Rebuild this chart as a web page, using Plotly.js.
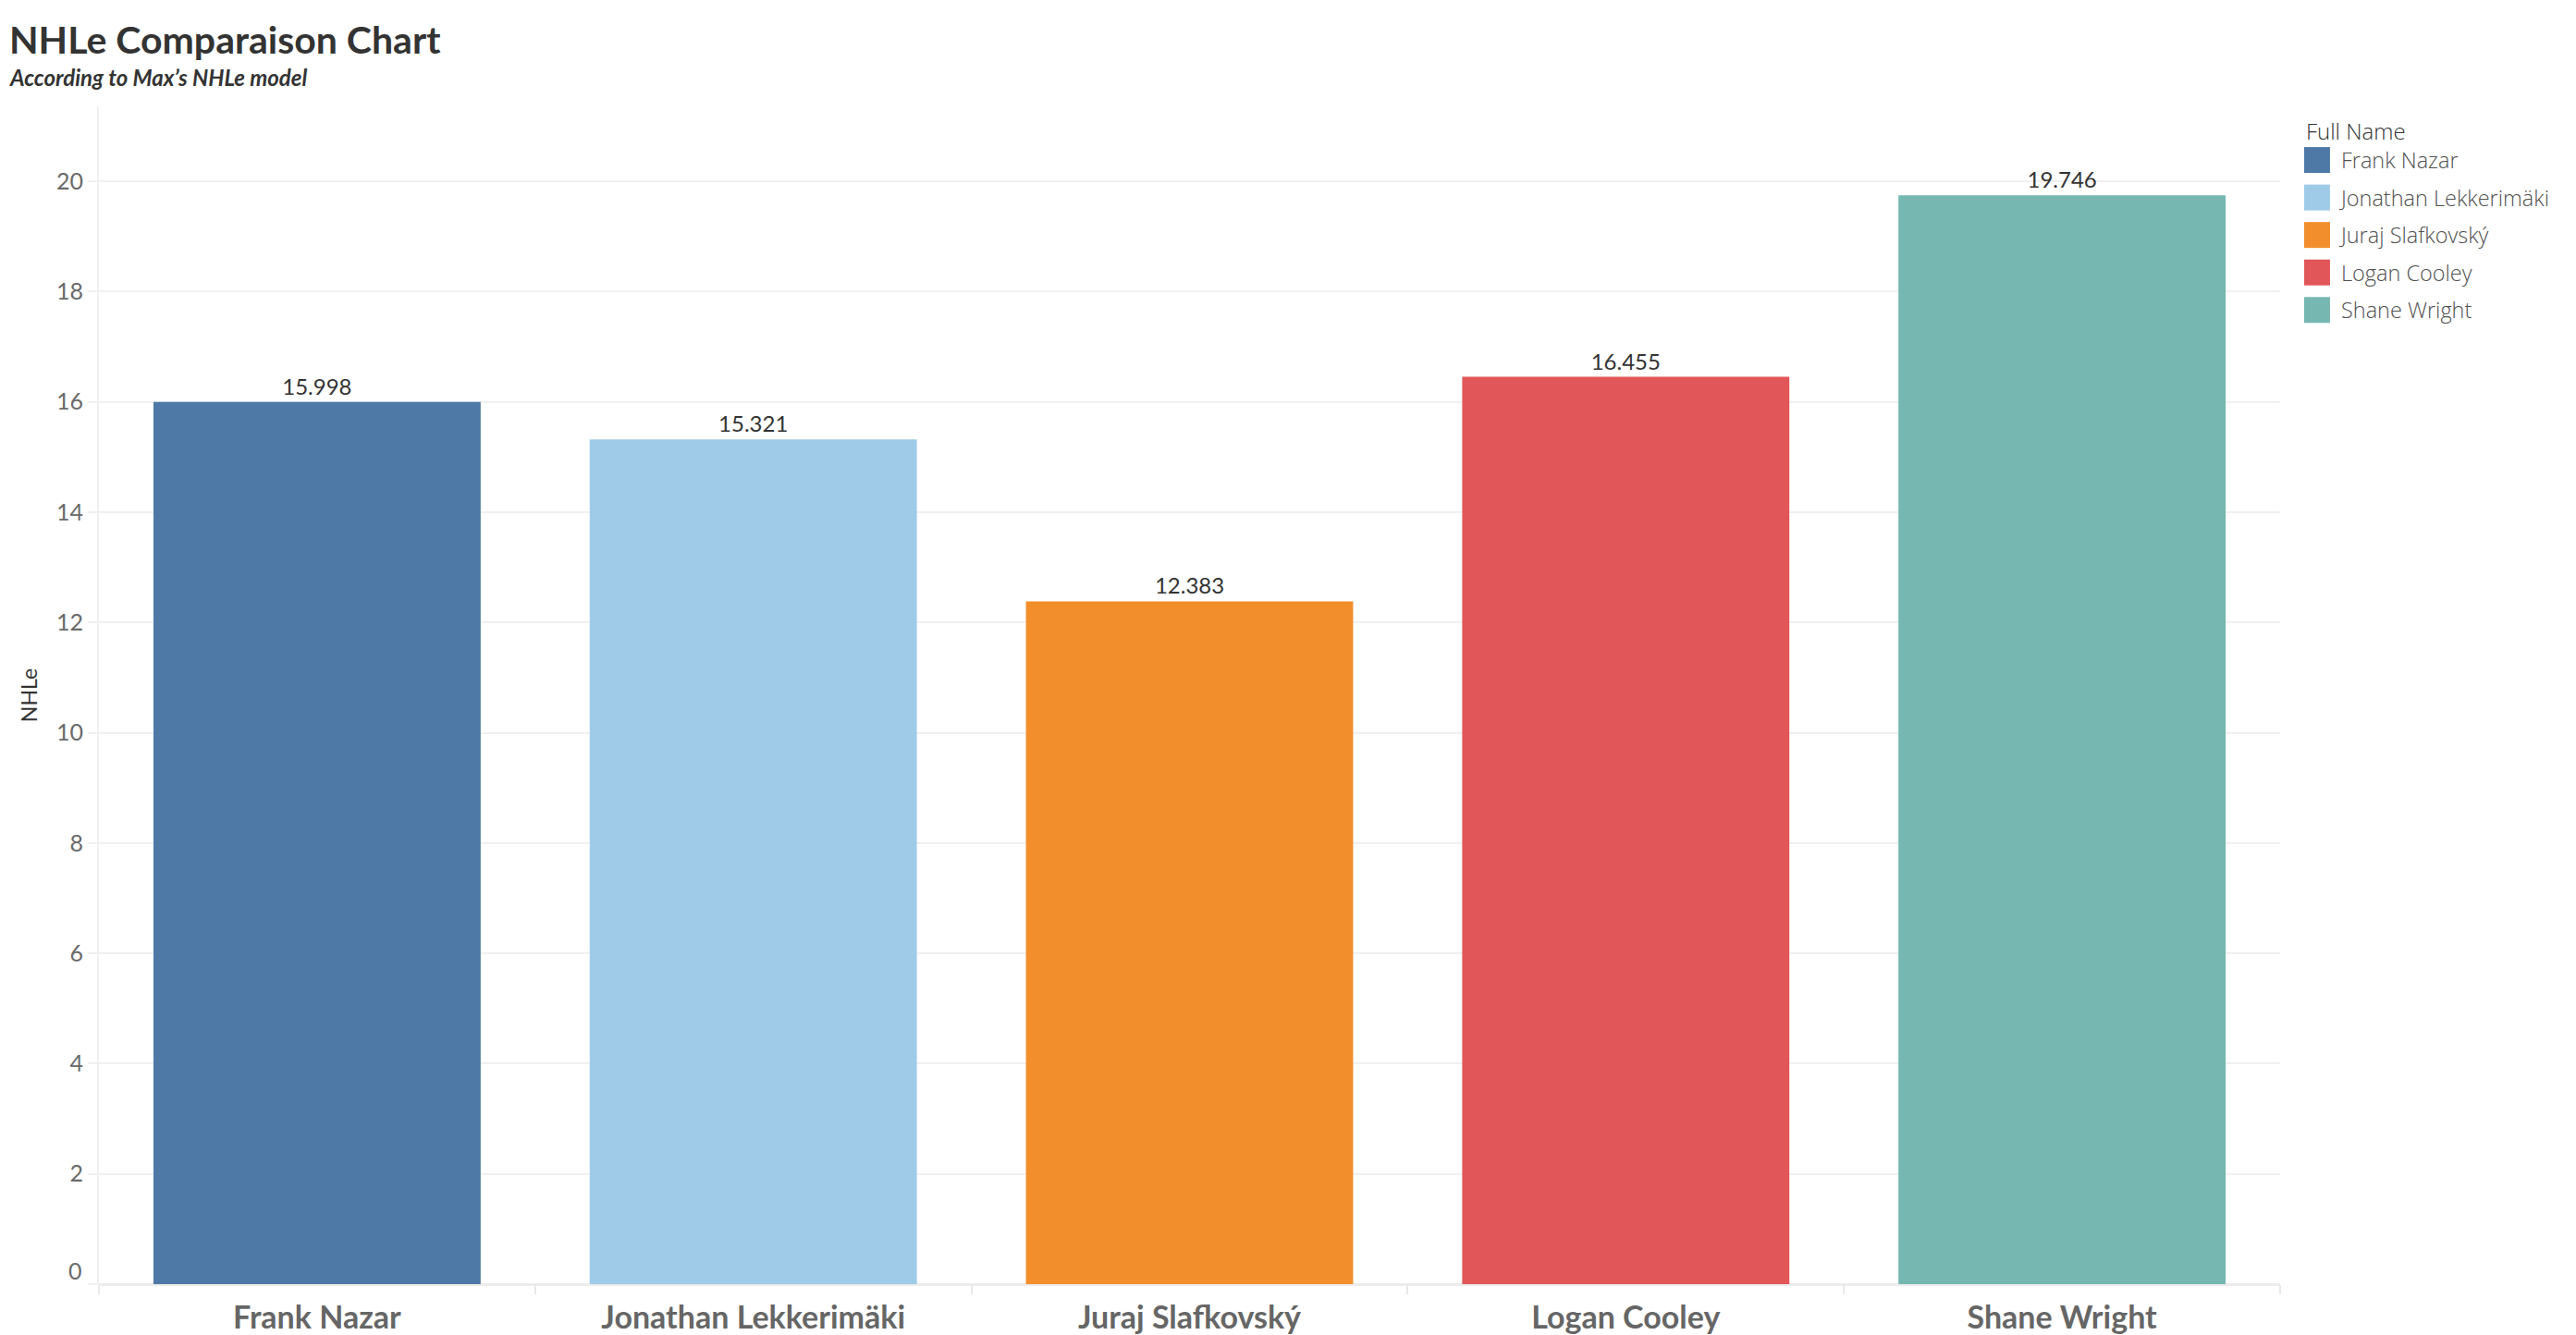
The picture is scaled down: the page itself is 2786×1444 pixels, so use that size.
<!DOCTYPE html>
<html>
<head>
<meta charset="utf-8">
<script src="https://cdn.plot.ly/plotly-3.0.1.min.js"></script>
<style>html,body{margin:0;padding:0;background:#fff;}#chart{width:2786px;height:1444px;}</style>
</head>
<body>
<div id="chart"></div>
<script>
const players = ['Frank Nazar', 'Jonathan Lekkerimäki', 'Juraj Slafkovský', 'Logan Cooley', 'Shane Wright'];
const nhleValues = [15.998, 15.321, 12.383, 16.455, 19.746];
const barColors = ['#4e79a7', '#a0cbe8', '#f28e2b', '#e15759', '#76b7b2'];
const yTickVals = [0, 2, 4, 6, 8, 10, 12, 14, 16, 18, 20];
const yTickText = ['', '2', '4', '6', '8', '10', '12', '14', '16', '18', '20'];

const FONT = 'Lato, "Open Sans", "DejaVu Sans", sans-serif';
const LEGEND_FONT = '"Open Sans", Lato, "DejaVu Sans", sans-serif';

const traces = players.map((p, i) => ({
  type: 'bar',
  name: p,
  legendgroup: 'g' + i,
  x: [p],
  y: [nhleValues[i]],
  width: 0.75,
  marker: {color: barColors[i], line: {width: 0}},
  text: [nhleValues[i].toFixed(3)],
  textposition: 'outside',
  cliponaxis: false,
  textfont: {family: FONT, size: 24, color: '#333333'},
  hoverinfo: 'x+y'
}));

const layout = {
  width: 2786,
  height: 1444,
  margin: {l: 107, r: 320, t: 115, b: 55, pad: 0},
  paper_bgcolor: '#ffffff',
  plot_bgcolor: '#ffffff',
  font: {family: FONT, color: '#666666'},
  barmode: 'overlay',
  showlegend: true,
  title: {
    text: '<b>NHLe Comparaison Chart</b>',
    font: {family: FONT, size: 41, color: '#333333'},
    x: 0.0036, xanchor: 'left', xref: 'container',
    y: 0.980, yanchor: 'top', yref: 'container'
  },
  xaxis: {
    type: 'category',
    categoryorder: 'array',
    categoryarray: players,
    tickson: 'boundaries',
    ticks: 'outside',
    ticklen: 10,
    tickwidth: 2,
    tickcolor: '#e8e8e8',
    ticklabelstandoff: 13,
    showgrid: false,
    showline: false,
    zeroline: false,
    tickfont: {family: FONT, size: 34, color: '#666666', weight: 700},
    fixedrange: true
  },
  yaxis: {
    range: [0, 21.36],
    tickmode: 'array',
    tickvals: yTickVals,
    ticktext: yTickText,
    ticks: 'outside',
    ticklen: 10,
    tickwidth: 2,
    tickcolor: '#f0f0f0',
    showgrid: true,
    gridcolor: '#f0f0f0',
    gridwidth: 2,
    zeroline: true,
    zerolinecolor: '#ececec',
    zerolinewidth: 3,
    showline: true,
    linecolor: '#f0f0f0',
    linewidth: 2,
    tickfont: {family: FONT, size: 25, color: '#6a6a6a'},
    title: {text: 'NHLe', font: {family: FONT, size: 23, color: '#333333'}, standoff: 14},
    fixedrange: true
  },
  legend: {
    title: {text: 'Full Name', font: {family: LEGEND_FONT, size: 24, color: '#333333'}},
    font: {family: LEGEND_FONT, size: 23.5, color: '#505050', weight: 300},
    x: 1.011, xanchor: 'left',
    y: 0.996, yanchor: 'top',
    bgcolor: 'rgba(0,0,0,0)',
    borderwidth: 0,
    tracegroupgap: 7,
    itemclick: false,
    itemdoubleclick: false
  },
  annotations: [
    {
      text: '0',
      xref: 'paper', x: 0, xanchor: 'right', xshift: -16,
      yref: 'y', y: yTickVals[0], yanchor: 'middle', yshift: 15,
      showarrow: false,
      font: {family: FONT, size: 25, color: '#6a6a6a'}
    },
    {
      text: '<b><i>According to Max\u2019s NHLe model</i></b>',
      xref: 'paper', x: -0.04197, xanchor: 'left',
      yref: 'paper', y: 1.0251, yanchor: 'middle',
      showarrow: false,
      font: {family: FONT, size: 24, color: '#333333'}
    }
  ]
};

const gd = document.getElementById('chart');

function enlargeLegendKeys() {
  // enlarge legend colour swatches to match the reference's square keys
  gd.querySelectorAll('g.legendpoints path').forEach(p => {
    p.setAttribute('d', 'M8,14H-20V-14H8Z');
  });
}

Plotly.newPlot(gd, traces, layout, {displayModeBar: false}).then(() => {
  enlargeLegendKeys();
  gd.on('plotly_afterplot', enlargeLegendKeys);
  setTimeout(enlargeLegendKeys, 0);
  setTimeout(enlargeLegendKeys, 200);
});
</script>
</body>
</html>
